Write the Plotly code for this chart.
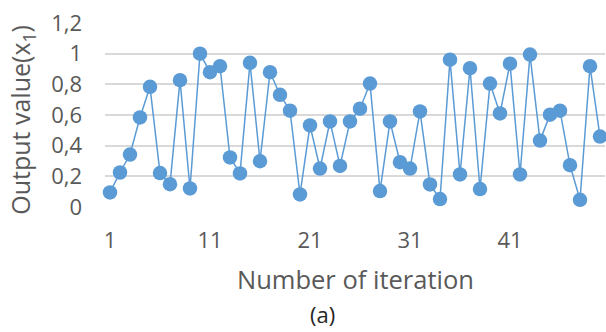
import plotly.graph_objects as go

iterations = list(range(1, 51))
output_values = [
    0.095, 0.225, 0.342, 0.584, 0.784, 0.221, 0.149, 0.827, 0.121, 1.000,
    0.879, 0.918, 0.323, 0.219, 0.940, 0.299, 0.879, 0.732, 0.628, 0.082,
    0.532, 0.251, 0.558, 0.268, 0.558, 0.641, 0.805, 0.104, 0.558, 0.292,
    0.251, 0.623, 0.147, 0.052, 0.961, 0.212, 0.905, 0.117, 0.805, 0.610,
    0.935, 0.212, 0.994, 0.433, 0.602, 0.628, 0.273, 0.047, 0.918, 0.459,
]
xtick_vals = [1, 11, 21, 31, 41]
xtick_text = ["1", "11", "21", "31", "41"]
ytick_vals = [0, 0.2, 0.4, 0.6, 0.8, 1.0, 1.2]
ytick_text = ["0", "0,2", "0,4", "0,6", "0,8", "1", "1,2"]

BLUE = "#5B9BD5"
GRAY = "#595959"
FONT = "Open Sans"

fig = go.Figure()
fig.add_trace(go.Scatter(
    x=iterations, y=output_values, mode="lines+markers",
    line=dict(color=BLUE, width=1.5),
    marker=dict(color=BLUE, size=14.5),
    cliponaxis=False, showlegend=False,
))

fig.update_layout(
    width=606, height=332,
    margin=dict(l=105, r=1, t=23, b=124.5),
    paper_bgcolor="white", plot_bgcolor="white",
    font=dict(family=FONT, color=GRAY),
    xaxis=dict(
        range=[0.5, 50.5], tickvals=xtick_vals, ticktext=xtick_text,
        showgrid=False, zeroline=False, showline=False,
        tickfont=dict(size=22, color=GRAY), ticklabelstandoff=18,
    ),
    yaxis=dict(
        range=[0, 1.2], tickvals=ytick_vals, ticktext=ytick_text,
        showgrid=True, gridcolor="#D9D9D9", gridwidth=1.5,
        zeroline=False, showline=False,
        tickfont=dict(size=22, color=GRAY), ticklabelstandoff=22,
    ),
    annotations=[
        dict(text="Number of iteration", x=355, y=280, xref="paper", yref="paper",
             showarrow=False, font=dict(size=25.5, color=GRAY)),
        dict(text="Output value(x<sub>1</sub>)", x=22, y=120, showarrow=False,
             textangle=-90, font=dict(size=25, color=GRAY)),
        dict(text="(a)", x=322, y=315, showarrow=False,
             font=dict(size=22, color="#262626")),
    ],
)

# convert pixel positions of annotations to paper coords
pw = 606 - 105 - 1
ph = 332 - 23 - 124.5
for a in fig.layout.annotations:
    px, py = a.x, a.y
    a.xref = "paper"
    a.yref = "paper"
    a.x = (px - 105) / pw
    a.y = (332 - 124.5 - py) / ph
    a.xanchor = "center"
    a.yanchor = "middle"

fig.write_html("out.html")
